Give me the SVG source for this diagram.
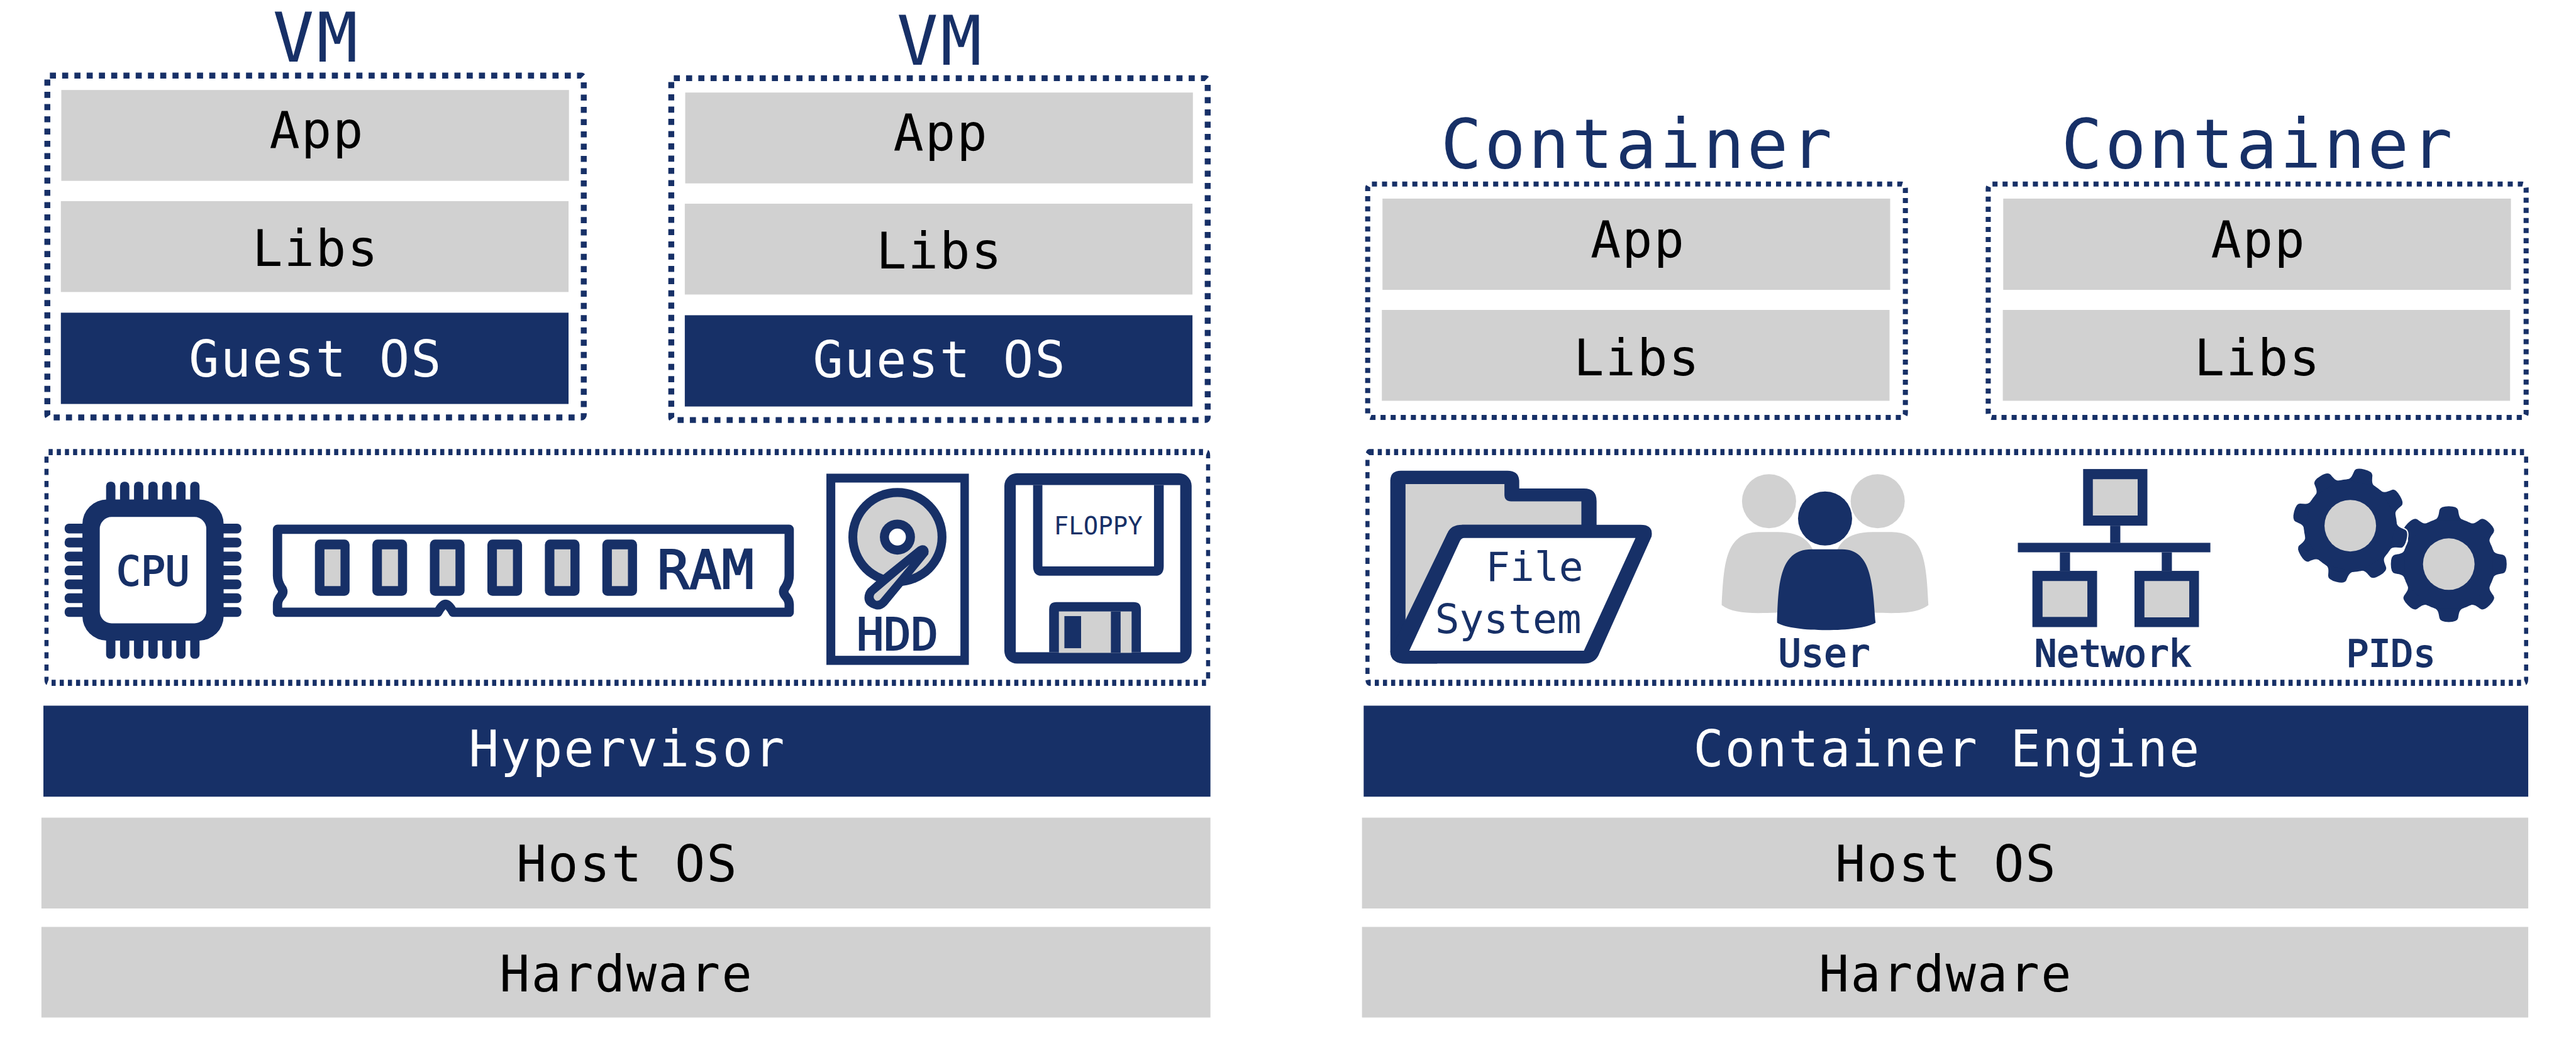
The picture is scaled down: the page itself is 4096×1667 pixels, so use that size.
<svg xmlns="http://www.w3.org/2000/svg" xmlns:xlink="http://www.w3.org/1999/xlink" width="4096" height="1667" viewBox="0 0 4096 1667">
<style>
.n{fill:#173067}
.g{fill:#d1d1d1}
.w{fill:#fff}
text{font-family:"DejaVu Sans Mono","Liberation Mono",monospace;text-anchor:middle}
.t{font-size:119px;letter-spacing:3.4px;fill:#000}
.tw{font-size:119px;letter-spacing:3.4px;fill:#fff}
.h{font-size:162px;letter-spacing:6px;fill:#173067}
.i{fill:#173067;stroke:#173067;stroke-width:3px}
.box{fill:none;stroke:#173067;stroke-width:14px;stroke-dasharray:14.4 14.6}
.cbox{fill:none;stroke:#173067;stroke-width:12px;stroke-dasharray:12 11.9}
.panel{fill:none;stroke:#173067;stroke-width:9.7px;stroke-dasharray:9.7 9.6}
.halo{fill:#fff;stroke:#fff;stroke-width:6px}
</style>
<defs>
<path id="tooth" d="M-36 -104C-24 -106 -24 -118 -22 -128Q-20 -137 0 -137Q20 -137 22 -128C24 -118 24 -106 36 -104Z"/>
<g id="gear">
<circle r="110"/>
<use xlink:href="#tooth"/>
<use xlink:href="#tooth" transform="rotate(45)"/>
<use xlink:href="#tooth" transform="rotate(90)"/>
<use xlink:href="#tooth" transform="rotate(135)"/>
<use xlink:href="#tooth" transform="rotate(180)"/>
<use xlink:href="#tooth" transform="rotate(225)"/>
<use xlink:href="#tooth" transform="rotate(270)"/>
<use xlink:href="#tooth" transform="rotate(315)"/>
</g>
</defs>
<rect class="w" width="4096" height="1667"/>
<g transform="scale(0.67214)">
<g id="vm1">
<text class="h" x="749" y="146">VM</text>
<rect class="box" x="112" y="179" width="1269" height="809" rx="6"/>
<rect class="g" x="145" y="213" width="1201" height="215"/>
<text class="t" x="750" y="350">App</text>
<rect class="g" x="144" y="476" width="1201" height="215"/>
<text class="t" x="747" y="630">Libs</text>
<rect class="n" x="144" y="740" width="1201" height="216"/>
<text class="tw" x="747" y="891">Guest OS</text>
</g>
<g id="vm2">
<text class="h" x="2225" y="153">VM</text>
<rect class="box" x="1588" y="185" width="1269" height="809" rx="6"/>
<rect class="g" x="1621" y="219" width="1201" height="215"/>
<text class="t" x="2226" y="356">App</text>
<rect class="g" x="1620" y="482" width="1201" height="215"/>
<text class="t" x="2223" y="636">Libs</text>
<rect class="n" x="1620" y="746" width="1201" height="216"/>
<text class="tw" x="2223" y="893">Guest OS</text>
</g>
<g id="container1">
<text class="h" x="3874" y="398">Container</text>
<rect class="cbox" x="3235.500" y="435.500" width="1272" height="552.500" rx="10"/>
<rect class="g" x="3270.500" y="470" width="1201" height="216"/>
<text class="t" x="3875" y="608">App</text>
<rect class="g" x="3269" y="733.500" width="1201" height="215"/>
<text class="t" x="3873" y="888">Libs</text>
</g>
<g id="container2">
<text class="h" x="5342" y="398">Container</text>
<rect class="cbox" x="4703.500" y="435.500" width="1272.500" height="552.500" rx="10"/>
<rect class="g" x="4739" y="470" width="1201" height="216"/>
<text class="t" x="5343" y="608">App</text>
<rect class="g" x="4738" y="733.500" width="1200" height="215"/>
<text class="t" x="5341" y="888">Libs</text>
</g>
<g id="vm-resources">
<rect class="panel" x="110" y="713.300" width="2748" height="364" rx="5" transform="scale(1 1.5)"/>
</g>
<g id="container-resources">
<rect class="panel" x="3235" y="713.300" width="2741" height="364" rx="5" transform="scale(1 1.5)"/>
</g>
<g id="cpu">
<g class="n">
<rect x="251" y="1140" width="22" height="60" rx="10"/><rect x="284" y="1140" width="22" height="60" rx="10"/><rect x="317" y="1140" width="22" height="60" rx="10"/><rect x="351" y="1140" width="22" height="60" rx="10"/><rect x="384" y="1140" width="22" height="60" rx="10"/><rect x="417" y="1140" width="22" height="60" rx="10"/><rect x="450" y="1140" width="22" height="60" rx="10"/>
<rect x="251" y="1499" width="22" height="60" rx="10"/><rect x="284" y="1499" width="22" height="60" rx="10"/><rect x="317" y="1499" width="22" height="60" rx="10"/><rect x="351" y="1499" width="22" height="60" rx="10"/><rect x="384" y="1499" width="22" height="60" rx="10"/><rect x="417" y="1499" width="22" height="60" rx="10"/><rect x="450" y="1499" width="22" height="60" rx="10"/>
<rect x="153" y="1239.500" width="60" height="23" rx="10"/><rect x="153" y="1272.500" width="60" height="23" rx="10"/><rect x="153" y="1305.500" width="60" height="23" rx="10"/><rect x="153" y="1338.500" width="60" height="23" rx="10"/><rect x="153" y="1371.500" width="60" height="23" rx="10"/><rect x="153" y="1404" width="60" height="23" rx="10"/><rect x="153" y="1437" width="60" height="23" rx="10"/>
<rect x="511" y="1239.500" width="60" height="23" rx="10"/><rect x="511" y="1272.500" width="60" height="23" rx="10"/><rect x="511" y="1305.500" width="60" height="23" rx="10"/><rect x="511" y="1338.500" width="60" height="23" rx="10"/><rect x="511" y="1371.500" width="60" height="23" rx="10"/><rect x="511" y="1404" width="60" height="23" rx="10"/><rect x="511" y="1437" width="60" height="23" rx="10"/>
<rect x="195" y="1182" width="334" height="334" rx="58"/>
</g>
<rect class="w" x="236" y="1223.500" width="252" height="251.500" rx="28"/>
<text class="i" x="362" y="1385" font-size="96">CPU</text>
</g>
<g id="ram">
<path class="w" d="M656.500 1252.500H1867V1362Q1867 1376 1858 1390Q1850 1400 1858 1410Q1867 1420 1867 1430V1449H1072Q1062 1430 1054 1430Q1046 1430 1036 1449H656.500V1430Q656.500 1420 665 1410Q673 1400 665 1390Q656.500 1376 656.500 1362Z" style="stroke:#173067;stroke-width:22px;stroke-linejoin:round"/>
<g class="n">
<rect x="745" y="1277" width="82" height="133" rx="12"/><rect x="881" y="1277" width="82" height="133" rx="12"/><rect x="1017" y="1277" width="82" height="133" rx="12"/><rect x="1153" y="1277" width="82" height="133" rx="12"/><rect x="1289" y="1277" width="82" height="133" rx="12"/><rect x="1425" y="1277" width="82" height="133" rx="12"/>
</g>
<g class="g">
<rect x="767.500" y="1300" width="38" height="87"/><rect x="903.500" y="1300" width="38" height="87"/><rect x="1039.500" y="1300" width="38" height="87"/><rect x="1175.500" y="1300" width="38" height="87"/><rect x="1311.500" y="1300" width="38" height="87"/><rect x="1447.500" y="1300" width="38" height="87"/>
</g>
<text class="i" x="1669" y="1392" font-size="127">RAM</text>
</g>
<g id="hdd">
<rect class="n" x="1955" y="1121" width="337" height="452.500"/>
<rect class="w" x="1976" y="1142" width="296" height="410"/>
<circle class="n" cx="2123" cy="1271" r="116"/>
<circle class="g" cx="2123" cy="1271" r="95"/>
<circle class="n" cx="2123" cy="1271" r="41.500"/>
<circle class="w" cx="2123" cy="1271" r="20"/>
<path class="n" d="M2090 1360L2168 1297Q2178 1288 2188 1291Q2200 1297 2196 1312L2135 1387L2098 1432Q2085 1445 2072 1442Q2045 1435 2045 1415Q2045 1403 2053 1393Z"/>
<path class="g" d="M2152 1335.600L2069 1406Q2066 1410 2067 1415Q2070 1422 2075 1422Q2080 1422 2083 1418Z"/>
<text class="i" x="2123" y="1538" font-size="107">HDD</text>
</g>
<g id="floppy">
<rect class="n" x="2376" y="1120" width="443" height="450.500" rx="30"/>
<rect class="w" x="2403" y="1148" width="389" height="395.500"/>
<path class="n" d="M2444 1148H2753V1340Q2753 1362.600 2733 1362.600H2464Q2444 1362.600 2444 1340Z"/>
<rect class="w" x="2466" y="1148" width="264" height="192.400"/>
<text class="n" x="2598" y="1264.600" font-size="58">FLOPPY</text>
<path class="n" d="M2482 1543.500V1442Q2482 1425 2499 1425H2682Q2699 1425 2699 1442V1543.500Z"/>
<rect class="g" x="2505" y="1447" width="172" height="98"/>
<rect class="n" x="2628" y="1447" width="23" height="98"/>
<rect class="n" x="2518" y="1458" width="39.500" height="76"/>
</g>
<g id="filesystem">
<path class="n" d="M3289 1138Q3289 1114 3314 1114H3566Q3594 1114 3594 1140V1156H3747Q3777 1156 3777 1186V1300H3400V1570.500H3325Q3289 1570 3289 1541Z"/>
<path class="g" d="M3325 1145.500H3559V1171Q3559 1186.500 3575 1186.500H3741V1242H3459L3424 1262L3325 1478Z"/>
<path class="n" d="M3459 1242H3881Q3912 1242 3907 1270L3784 1545Q3775 1570.500 3747 1570.500H3325Q3289 1570 3289 1541L3424 1262Q3432 1242 3459 1242Z"/>
<path class="w" d="M3464 1273H3869L3747 1540H3334L3454 1280Q3457 1273 3464 1273Z"/>
<text class="i" x="3630" y="1374" font-size="96" style="stroke-width:0">File</text>
<text class="i" x="3568" y="1497.700" font-size="96" style="stroke-width:0">System</text>
</g>
<g id="user">
<circle class="g" cx="4185" cy="1186" r="64"/>
<circle class="g" cx="4442" cy="1186" r="64"/>
<path class="g" d="M4073 1432C4078 1340 4080 1259 4160 1259H4205C4270 1259 4285 1290 4292 1310V1440L4202 1450C4140 1452 4100 1452 4073 1432Z"/>
<path class="g" d="M4562 1432C4557 1340 4555 1259 4475 1259H4430C4365 1259 4350 1290 4343 1310V1440L4433 1450C4495 1452 4535 1452 4562 1432Z"/>
<circle class="n" cx="4317.500" cy="1227" r="64"/>
<path class="n" d="M4204 1473.600C4207 1390 4207 1300 4285 1300H4358C4430 1300 4430 1390 4437 1473.600C4400 1497 4240 1497 4204 1473.600Z"/>
<text class="i" x="4315" y="1577" font-size="90">User</text>
</g>
<g id="network">
<rect class="n" x="4928" y="1110" width="152" height="134"/>
<rect class="g" x="4951" y="1134" width="106" height="86"/>
<rect class="n" x="4992" y="1244" width="24" height="41"/>
<rect class="n" x="4773.600" y="1284.600" width="455.400" height="22.400"/>
<rect class="n" x="4873" y="1307" width="24" height="44"/>
<rect class="n" x="5114" y="1307" width="24" height="44"/>
<rect class="n" x="4808" y="1351" width="153" height="133"/>
<rect class="g" x="4832" y="1375" width="106" height="85"/>
<rect class="n" x="5049.500" y="1351" width="152.500" height="133"/>
<rect class="g" x="5073" y="1375" width="106" height="86"/>
<text class="i" x="4998" y="1577" font-size="88">Network</text>
</g>
<g id="pids">
<use class="n" xlink:href="#gear" transform="translate(5793 1335)"/>
<circle class="g" cx="5793" cy="1335" r="61"/>
<use class="halo" xlink:href="#gear" transform="translate(5560 1244) rotate(14)"/>
<use class="n" xlink:href="#gear" transform="translate(5560 1244) rotate(14)"/>
<circle class="g" cx="5560" cy="1244" r="61"/>
<text class="i" x="5656" y="1577" font-size="88">PIDs</text>
</g>
<g id="hypervisor"><rect class="n" x="102.700" y="1670" width="2760.800" height="215.400"/><text class="tw" x="1484" y="1814">Hypervisor</text></g>
<g id="hostos1"><rect class="g" x="98" y="1935" width="2765.500" height="215"/><text class="t" x="1484" y="2086">Host OS</text></g>
<g id="hardware1"><rect class="g" x="98" y="2193.600" width="2765.500" height="214.400"/><text class="t" x="1482" y="2347">Hardware</text></g>
<g id="engine"><rect class="n" x="3226" y="1670" width="2755" height="215.400"/><text class="tw" x="4606" y="1814">Container Engine</text></g>
<g id="hostos2"><rect class="g" x="3222" y="1935" width="2759" height="215"/><text class="t" x="4604" y="2086">Host OS</text></g>
<g id="hardware2"><rect class="g" x="3222" y="2193.600" width="2759" height="214.400"/><text class="t" x="4603" y="2347">Hardware</text></g>
</g>
</svg>
